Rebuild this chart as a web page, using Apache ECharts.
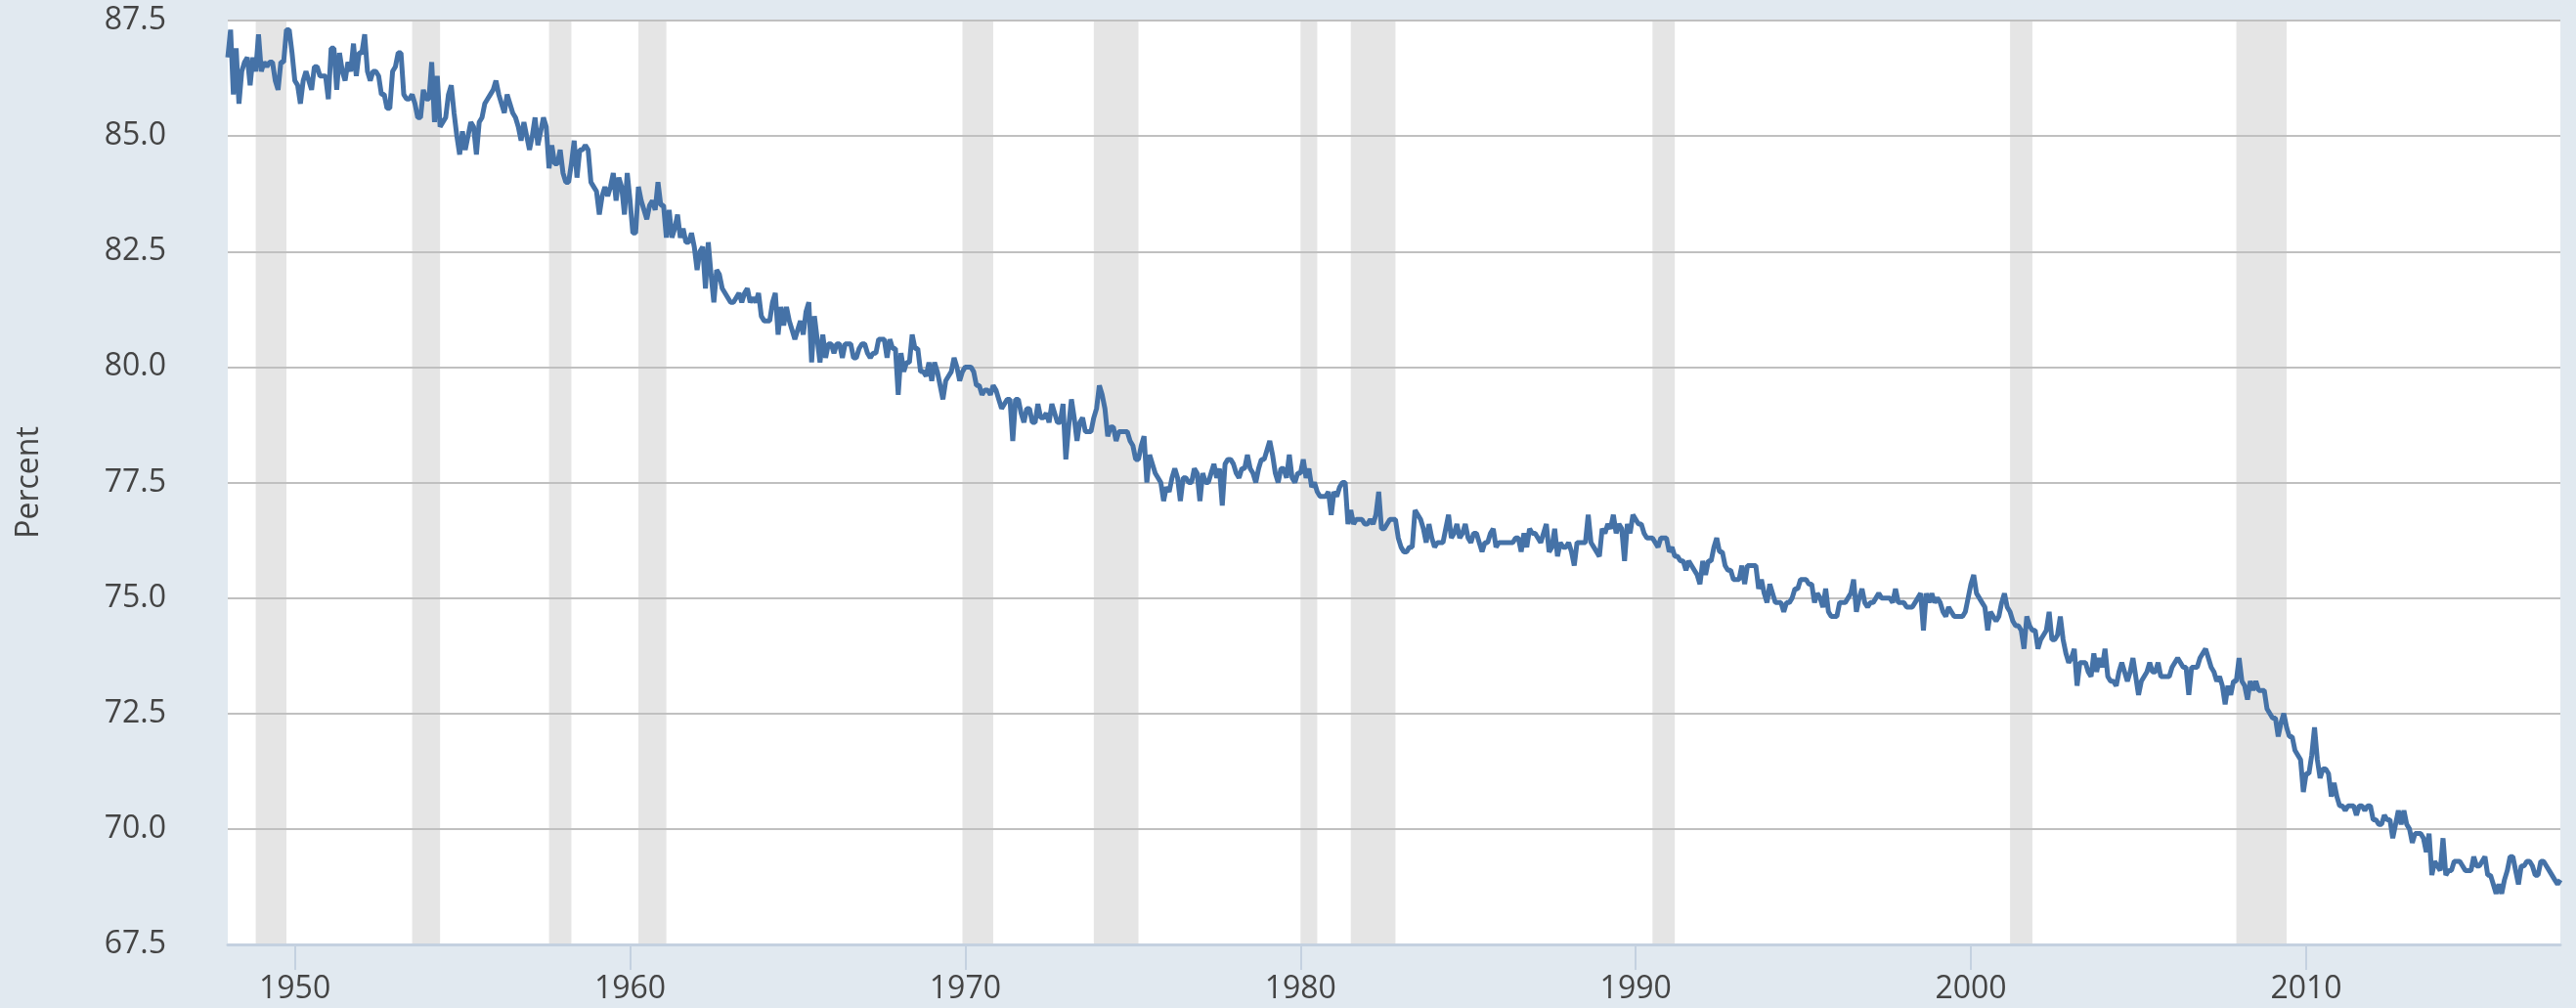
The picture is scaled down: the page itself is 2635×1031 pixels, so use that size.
<!DOCTYPE html>
<html>
<head>
<meta charset="utf-8">
<script src="https://cdn.jsdelivr.net/npm/echarts@6/dist/echarts.min.js"></script>
<style>
  html, body { margin: 0; padding: 0; background: #e1e9f0; }
  #chartLineBox { width: 2635px; height: 1031px; }
</style>
</head>
<body>
<div id="chartLineBox"></div>
<script>
// monthly values (Jan 1948 .. Aug 2017)
var startYear = 1948
var v1948_49 = [
  86.7, 87.3, 85.9, 86.9, 85.7, 86.4, 86.6, 86.7, 86.1, 86.7, 86.4, 87.2,
  86.4, 86.6, 86.5, 86.6, 86.6, 86.2, 86.0, 86.6, 86.6, 87.3, 87.3, 86.8
]
var v1950s = [
  86.2, 86.1, 85.7, 86.2, 86.4, 86.2, 86.0, 86.5, 86.5, 86.3, 86.3, 86.3,
  85.8, 86.9, 86.9, 86.0, 86.8, 86.4, 86.2, 86.6, 86.4, 87.0, 86.3, 86.8,
  86.8, 87.2, 86.4, 86.2, 86.4, 86.4, 86.3, 85.9, 85.9, 85.6, 85.6, 86.4,
  86.5, 86.8, 86.8, 85.9, 85.8, 85.8, 85.9, 85.7, 85.4, 85.4, 86.0, 85.8,
  85.8, 86.6, 85.3, 86.3, 85.2, 85.3, 85.4, 85.9, 86.1, 85.5, 85.0, 84.6,
  85.1, 84.7, 85.0, 85.3, 85.2, 84.6, 85.3, 85.4, 85.7, 85.8, 85.9, 86.0,
  86.2, 85.9, 85.7, 85.5, 85.9, 85.7, 85.5, 85.4, 85.2, 84.9, 85.3, 85.0,
  84.7, 85.0, 85.4, 84.8, 85.1, 85.4, 85.2, 84.3, 84.8, 84.4, 84.4, 84.7,
  84.2, 84.0, 84.0, 84.4, 84.9, 84.1, 84.7, 84.7, 84.8, 84.7, 84.0, 83.9,
  83.8, 83.3, 83.7, 83.9, 83.7, 83.9, 84.2, 83.6, 84.1, 83.9, 83.3, 84.2
]
var v1960s = [
  83.6, 82.9, 82.9, 83.9, 83.6, 83.4, 83.2, 83.5, 83.6, 83.4, 84.0, 83.5,
  83.5, 82.8, 83.4, 82.8, 83.0, 83.3, 82.8, 83.0, 82.7, 82.7, 82.9, 82.6,
  82.1, 82.5, 82.6, 81.7, 82.7, 82.0, 81.4, 82.1, 82.0, 81.7, 81.6, 81.5,
  81.4, 81.4, 81.5, 81.6, 81.4, 81.6, 81.7, 81.4, 81.5, 81.4, 81.6, 81.1,
  81.0, 81.0, 81.0, 81.4, 81.6, 80.7, 81.3, 80.9, 81.3, 81.0, 80.8, 80.6,
  80.8, 81.0, 80.7, 81.2, 81.4, 80.1, 81.1, 80.6, 80.1, 80.7, 80.2, 80.5,
  80.5, 80.3, 80.5, 80.5, 80.2, 80.5, 80.5, 80.5, 80.2, 80.2, 80.4, 80.5,
  80.5, 80.3, 80.2, 80.3, 80.3, 80.6, 80.6, 80.6, 80.2, 80.6, 80.4, 80.4,
  79.4, 80.3, 79.9, 80.1, 80.1, 80.7, 80.4, 80.4, 79.9, 79.9, 79.8, 80.1,
  79.7, 80.1, 79.9, 79.6, 79.3, 79.7, 79.8, 79.9, 80.2, 80.0, 79.7, 79.9
]
var v1970s = [
  80.0, 80.0, 80.0, 79.9, 79.6, 79.6, 79.4, 79.5, 79.5, 79.4, 79.6, 79.5,
  79.3, 79.1, 79.2, 79.3, 79.3, 78.4, 79.3, 79.3, 79.0, 78.8, 79.1, 79.1,
  78.8, 78.8, 79.2, 78.9, 78.9, 79.0, 78.8, 79.2, 79.0, 78.8, 78.8, 79.2,
  78.0, 78.7, 79.3, 78.9, 78.4, 78.8, 78.9, 78.6, 78.6, 78.6, 78.9, 79.1,
  79.6, 79.4, 79.1, 78.5, 78.7, 78.7, 78.4, 78.6, 78.6, 78.6, 78.6, 78.4,
  78.3, 78.0, 78.0, 78.3, 78.5, 77.5, 78.1, 77.9, 77.7, 77.6, 77.5, 77.1,
  77.4, 77.3, 77.6, 77.8, 77.6, 77.1, 77.6, 77.6, 77.5, 77.5, 77.8, 77.7,
  77.1, 77.7, 77.5, 77.5, 77.7, 77.9, 77.6, 77.8, 77.0, 77.9, 78.0, 78.0,
  77.9, 77.7, 77.6, 77.8, 77.8, 78.1, 77.8, 77.7, 77.5, 77.8, 78.0, 78.0,
  78.2, 78.4, 78.1, 77.7, 77.5, 77.8, 77.8, 77.6, 78.1, 77.6, 77.5, 77.7
]
var v1980s = [
  77.7, 78.0, 77.6, 77.8, 77.4, 77.5, 77.3, 77.2, 77.2, 77.2, 77.3, 76.8,
  77.3, 77.2, 77.4, 77.5, 77.5, 76.6, 76.9, 76.6, 76.7, 76.7, 76.7, 76.6,
  76.6, 76.7, 76.6, 76.8, 77.3, 76.5, 76.5, 76.6, 76.7, 76.7, 76.7, 76.3,
  76.1, 76.0, 76.0, 76.1, 76.1, 76.9, 76.8, 76.7, 76.5, 76.2, 76.6, 76.3,
  76.1, 76.2, 76.2, 76.2, 76.5, 76.8, 76.3, 76.4, 76.6, 76.3, 76.4, 76.6,
  76.3, 76.2, 76.4, 76.4, 76.2, 76.0, 76.2, 76.2, 76.4, 76.5, 76.1, 76.2,
  76.2, 76.2, 76.2, 76.2, 76.2, 76.3, 76.3, 76.0, 76.4, 76.1, 76.5, 76.4,
  76.4, 76.3, 76.2, 76.4, 76.6, 76.0, 76.1, 76.5, 75.9, 76.2, 76.1, 76.1,
  76.2, 76.0, 75.7, 76.2, 76.2, 76.2, 76.2, 76.8, 76.2, 76.1, 76.0, 75.9,
  76.5, 76.4, 76.6, 76.5, 76.8, 76.4, 76.6, 76.5, 75.8, 76.6, 76.4, 76.8
]
var v1990s = [
  76.7, 76.6, 76.6, 76.4, 76.3, 76.3, 76.3, 76.2, 76.1, 76.3, 76.3, 76.3,
  76.0, 76.1, 75.9, 75.9, 75.8, 75.8, 75.6, 75.8, 75.7, 75.6, 75.5, 75.3,
  75.8, 75.5, 75.8, 75.8, 76.1, 76.3, 76.0, 76.0, 75.7, 75.6, 75.6, 75.4,
  75.4, 75.4, 75.7, 75.3, 75.7, 75.7, 75.7, 75.7, 75.2, 75.4, 75.1, 74.9,
  75.3, 75.1, 74.9, 74.9, 74.9, 74.7, 74.9, 74.9, 75.0, 75.2, 75.2, 75.4,
  75.4, 75.4, 75.3, 75.3, 74.9, 75.1, 75.0, 74.8, 75.2, 74.7, 74.6, 74.6,
  74.6, 74.9, 74.9, 74.9, 75.0, 75.1, 75.4, 74.7, 75.0, 75.2, 74.9, 74.8,
  74.9, 74.9, 75.0, 75.1, 75.0, 75.0, 75.0, 75.0, 74.9, 75.2, 74.9, 74.9,
  74.9, 74.8, 74.8, 74.8, 74.9, 75.0, 75.1, 74.3, 75.1, 74.9, 75.1, 74.9,
  75.0, 74.9, 74.7, 74.6, 74.8, 74.7, 74.6, 74.6, 74.6, 74.6, 74.7, 75.0
]
var v2000s = [
  75.3, 75.5, 75.1, 75.0, 74.9, 74.8, 74.3, 74.7, 74.6, 74.5, 74.6, 74.9,
  75.1, 74.8, 74.7, 74.5, 74.4, 74.4, 74.3, 73.9, 74.6, 74.4, 74.3, 74.3,
  73.9, 74.1, 74.2, 74.3, 74.7, 74.1, 74.1, 74.2, 74.6, 74.1, 73.8, 73.6,
  73.7, 73.9, 73.1, 73.6, 73.6, 73.6, 73.4, 73.3, 73.8, 73.4, 73.7, 73.5,
  73.9, 73.3, 73.2, 73.2, 73.1, 73.4, 73.6, 73.4, 73.2, 73.4, 73.7, 73.3,
  72.9, 73.2, 73.3, 73.4, 73.6, 73.4, 73.4, 73.6, 73.3, 73.3, 73.3, 73.3,
  73.5, 73.6, 73.7, 73.6, 73.5, 73.5, 72.9, 73.5, 73.5, 73.5, 73.7, 73.8,
  73.9, 73.7, 73.5, 73.4, 73.2, 73.3, 73.1, 72.7, 73.1, 72.9, 73.2, 73.2,
  73.7, 73.2, 73.1, 72.8, 73.2, 73.0, 73.2, 73.0, 73.0, 73.0, 72.6, 72.5,
  72.4, 72.4, 72.0, 72.3, 72.5, 72.2, 72.0, 72.0, 71.7, 71.6, 71.5, 70.8
]
var v2010s = [
  71.2, 71.2, 71.6, 72.2, 71.5, 71.1, 71.3, 71.3, 71.2, 70.7, 71.0, 70.7,
  70.5, 70.5, 70.4, 70.5, 70.5, 70.5, 70.3, 70.5, 70.5, 70.4, 70.5, 70.5,
  70.2, 70.2, 70.1, 70.1, 70.3, 70.2, 70.2, 69.8, 70.1, 70.4, 70.1, 70.4,
  70.1, 70.0, 69.7, 69.9, 69.9, 69.9, 69.8, 69.5, 69.9, 69.0, 69.3, 69.2,
  69.1, 69.8, 69.0, 69.1, 69.1, 69.3, 69.3, 69.3, 69.2, 69.1, 69.1, 69.1,
  69.4, 69.2, 69.2, 69.3, 69.4, 69.0, 69.0, 68.8, 68.6, 68.8, 68.6, 68.9,
  69.1, 69.4, 69.4, 69.1, 68.8, 69.2, 69.2, 69.3, 69.3, 69.2, 69.0, 69.0,
  69.3, 69.3, 69.2, 69.1, 69.0, 68.9, 68.8, 68.9
]

// NBER recessions (shaded), as month categories
var recessions = [
  ['1948-11', '1949-10'], ['1953-07', '1954-05'], ['1957-08', '1958-04'],
  ['1960-04', '1961-02'], ['1969-12', '1970-11'], ['1973-11', '1975-03'],
  ['1980-01', '1980-07'], ['1981-07', '1982-11'], ['1990-07', '1991-03'],
  ['2001-03', '2001-11'], ['2007-12', '2009-06']
]
var xTickYears = [1950, 1960, 1970, 1980, 1990, 2000, 2010]

var allValues = [].concat(v1948_49, v1950s, v1960s, v1970s, v1980s, v1990s, v2000s, v2010s)
var months = allValues.map(function (v, i) {
  var m = (i % 12) + 1
  return (startYear + Math.floor(i / 12)) + '-' + (m < 10 ? '0' + m : m)
})
var tickMonths = xTickYears.map(function (y) { return y + '-01' })
function isTick (index, value) { return tickMonths.indexOf(value) >= 0 }

var font = 'Open Sans'
var chartLine = echarts.init(document.getElementById('chartLineBox'))
var option = {
  animation: false,
  backgroundColor: '#e1e9f0',
  grid: {
    left: 233, right: 16, top: 21, bottom: 65,
    show: true, backgroundColor: '#ffffff', borderWidth: 0,
    outerBoundsMode: 'none'
  },
  xAxis: {
    type: 'category',
    data: months,
    boundaryGap: false,
    z: 3,
    axisLine: { lineStyle: { color: '#c4d1e0', width: 3 } },
    axisTick: { show: true, length: 26, interval: isTick, lineStyle: { color: '#c4d1e0', width: 2 } },
    axisLabel: {
      interval: isTick,
      formatter: function (v) { return v.slice(0, 4) },
      fontFamily: font, fontSize: 32, color: '#444', margin: 30
    },
    splitLine: { show: false }
  },
  yAxis: {
    type: 'value',
    min: 67.5,
    max: 87.5,
    interval: 2.5,
    z: 3,
    name: 'Percent',
    nameLocation: 'middle',
    nameGap: 187,
    nameTextStyle: { fontFamily: font, fontSize: 32, color: '#444' },
    axisLine: { show: false },
    axisTick: { show: false },
    axisLabel: {
      fontFamily: font, fontSize: 32, color: '#444', margin: 63,
      formatter: function (v) { return v.toFixed(1) }
    },
    splitLine: { lineStyle: { color: '#c0c0c0', width: 2 } }
  },
  series: [
    {
      // recession bands only
      type: 'line',
      data: [],
      z: 2,
      silent: true,
      markArea: {
        silent: true,
        itemStyle: { color: '#e5e5e5' },
        data: recessions.map(function (r) { return [{ xAxis: r[0] }, { xAxis: r[1] }] })
      }
    },
    {
      type: 'line',
      data: allValues,
      z: 4,
      showSymbol: false,
      symbol: 'none',
      lineStyle: { color: '#4572a7', width: 5 }
    }
  ]
}
chartLine.setOption(option)
</script>
</body>
</html>
